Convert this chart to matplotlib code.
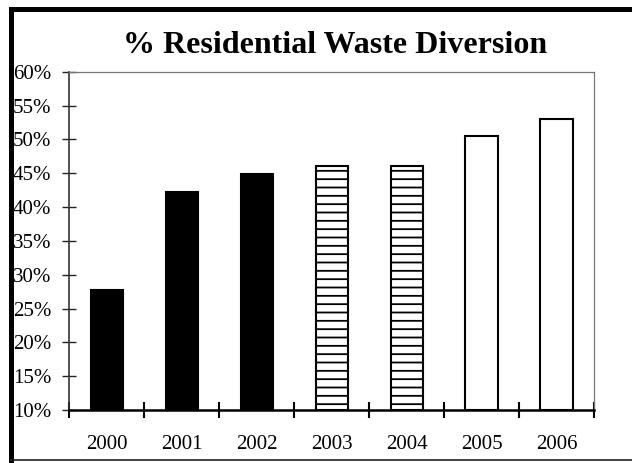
import matplotlib
matplotlib.use("Agg")
import matplotlib.pyplot as plt
from matplotlib.lines import Line2D
from matplotlib.ticker import FixedLocator, PercentFormatter

years = ["2000", "2001", "2002", "2003", "2004", "2005", "2006"]
diversion_pct = [27.8, 42.2, 44.9, 46.0, 46.0, 50.5, 53.0]
y_ticks = [10, 15, 20, 25, 30, 35, 40, 45, 50, 55, 60]

plt.rcParams["font.family"] = ["Liberation Serif", "DejaVu Serif"]
plt.rcParams["hatch.linewidth"] = 1.3

fig = plt.figure(figsize=(6.32, 4.63), dpi=100)
ax = fig.add_axes([0.1097, 0.1145, 0.8302, 0.7306])

# fill style per bar: solid, striped, open
fills = ["solid"] * 3 + ["striped"] * 2 + ["open"] * 2
x = list(range(len(years)))
for xi, val, kind in zip(x, diversion_pct, fills):
    if kind == "solid":
        ax.bar(xi, val - 10, bottom=10, width=0.43, color="black",
               edgecolor="black", linewidth=1.5, zorder=2)
    elif kind == "striped":
        ax.bar(xi, val - 10, bottom=10, width=0.43, facecolor="white",
               edgecolor="black", hatch="--", linewidth=1.5, zorder=2)
    else:
        ax.bar(xi, val - 10, bottom=10, width=0.43, facecolor="white",
               edgecolor="black", linewidth=1.5, zorder=2)

ax.set_xlim(-0.5, len(years) - 0.5)
ax.set_ylim(10, 60)
ax.set_yticks(y_ticks)
ax.yaxis.set_major_formatter(PercentFormatter(decimals=0))
ax.set_xticks(x)
ax.set_xticklabels(years)
ax.xaxis.set_minor_locator(FixedLocator([i - 0.5 for i in range(len(years) + 1)]))

ax.tick_params(axis="y", direction="inout", length=10, width=1, colors="#222222",
               labelcolor="black", labelsize=15, pad=8)
ax.tick_params(axis="x", which="major", length=0, labelsize=15, pad=18)
ax.tick_params(axis="x", which="minor", direction="inout", length=11, width=1.5,
               color="black")

ax.spines["left"].set_color("#333333")
ax.spines["left"].set_linewidth(1.2)
ax.spines["bottom"].set_color("black")
ax.spines["bottom"].set_linewidth(1.8)
ax.spines["bottom"].set_zorder(3)
for side in ("top", "right"):
    ax.spines[side].set_color("#777777")
    ax.spines[side].set_linewidth(0.9)

fig.text(0.530, 0.8849, "% Residential Waste Diversion", ha="center",
         va="baseline", fontsize=23, fontweight="bold")

# outer frame: heavy left and top edges, thin bottom edge
fig.add_artist(Line2D([0.0171, 0.0171], [0.0, 0.9816], color="black",
                      linewidth=3.6, solid_capstyle="projecting",
                      transform=fig.transFigure))
fig.add_artist(Line2D([0.0171, 1.0], [0.9816, 0.9816], color="black",
                      linewidth=3.6, solid_capstyle="projecting",
                      transform=fig.transFigure))
fig.add_artist(Line2D([0.0171, 1.0], [0.0065, 0.0065], color="#222222",
                      linewidth=1.2, transform=fig.transFigure))

fig.savefig("out.png", dpi=100, facecolor="white")
